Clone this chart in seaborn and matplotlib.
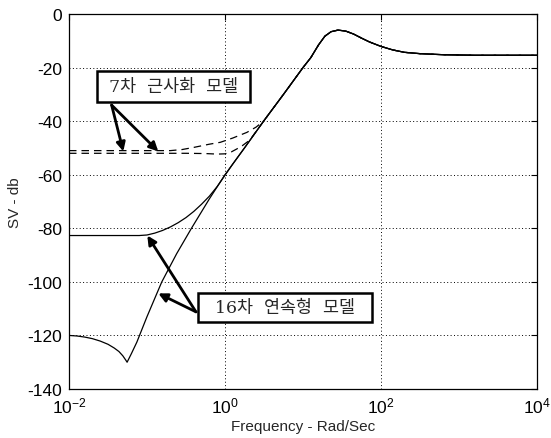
import numpy as np
import pandas as pd
import matplotlib
matplotlib.use("Agg")
import matplotlib.pyplot as plt
from matplotlib.patches import Rectangle
import seaborn as sns

# ---- singular-value curves: log10(frequency in rad/s) and magnitude in dB ----
# common high-frequency part shared by every model
high_logf = [0.10, 0.15, 0.25, 0.50, 0.75, 1.00, 1.10, 1.20, 1.28, 1.36, 1.45, 1.55, 1.65,
             1.75, 1.85, 2.00, 2.15, 2.30, 2.50, 2.80, 3.20, 4.00]
high_db = [-56.0, -54.0, -50.0, -39.8, -30.0, -20.0, -16.3, -11.5, -8.3, -6.6, -6.0, -6.4, -7.5,
           -9.0, -10.4, -12.1, -13.4, -14.3, -14.8, -15.2, -15.4, -15.4]

# 16th-order continuous model, lower singular value
cont_low_logf = [-2.0, -1.9, -1.8, -1.7, -1.6, -1.5, -1.42, -1.36, -1.31, -1.27, -1.255,
                 -1.2, -1.13, -1.0, -0.876, -0.81, -0.62, -0.43, -0.2, 0.0]
cont_low_db = [-120.0, -120.2, -120.6, -121.2, -122.1, -123.3, -124.7, -126.0, -127.6, -129.3, -130.0,
               -126.8, -122.5, -113.0, -104.5, -100.0, -89.5, -80.0, -69.0, -60.0]

# 16th-order continuous model, upper singular value
cont_up_logf = [-2.0, -1.5, -1.1, -1.0, -0.9, -0.8, -0.7, -0.6, -0.5, -0.4, -0.3, -0.2, -0.1, 0.0, 0.1]
cont_up_db = [-82.7, -82.7, -82.7, -82.5, -81.8, -80.8, -79.5, -77.9, -76.0, -73.7, -71.0, -68.0,
              -64.4, -60.2, -56.0]

# 7th-order reduced model, first singular value
red_a_logf = [-2.0, -1.5, -1.0, -0.7, -0.55, -0.4, -0.2, -0.06, 0.1, 0.28, 0.4]
red_a_db = [-51.0, -51.0, -51.0, -51.0, -50.6, -49.8, -48.6, -47.9, -46.3, -44.2, -42.2]

# 7th-order reduced model, second singular value
red_b_logf = [-2.0, -1.5, -1.0, -0.5, -0.25, -0.1, 0.0, 0.08, 0.15, 0.22, 0.28, 0.32]
red_b_db = [-52.0, -52.0, -52.0, -52.0, -52.1, -52.3, -52.2, -51.5, -50.4, -49.2, -47.9, -47.0]

x_ticks = [1e-2, 1e0, 1e2, 1e4]
y_ticks = [0, -20, -40, -60, -80, -100, -120, -140]

label_reduced = "7차  근사화  모델"
label_cont = "16차  연속형  모델"


def series(logf, db):
    rest = [i for i, v in enumerate(high_logf) if v > logf[-1]]
    lf = list(logf) + [high_logf[i] for i in rest]
    d = list(db) + [high_db[i] for i in rest]
    return pd.DataFrame({"freq": np.power(10.0, lf), "db": d})


sns.set_theme(style="white")
plt.rcParams["font.family"] = ["Liberation Sans", "DejaVu Sans"]
plt.rcParams["axes.unicode_minus"] = False
plt.rcParams["mathtext.fontset"] = "custom"
plt.rcParams["mathtext.rm"] = "Liberation Sans"
plt.rcParams["mathtext.it"] = "Liberation Sans"

fig = plt.figure(figsize=(5.51, 4.39), dpi=100)
ax = fig.add_axes([0.1252, 0.1116, 0.8494, 0.8542])

dash = dict(color="black", lw=0.9, linestyle=(0, (6, 4)))
sns.lineplot(data=series(red_a_logf, red_a_db), x="freq", y="db", sort=False, estimator=None, ax=ax, **dash)
sns.lineplot(data=series(red_b_logf, red_b_db), x="freq", y="db", sort=False, estimator=None, ax=ax, **dash)
solid = dict(color="black", lw=0.9)
sns.lineplot(data=series(cont_up_logf, cont_up_db), x="freq", y="db", sort=False, estimator=None, ax=ax, **solid)
sns.lineplot(data=series(cont_low_logf, cont_low_db), x="freq", y="db", sort=False, estimator=None, ax=ax, **solid)

ax.set_xscale("log")
ax.set_xlim(1e-2, 1e4)
ax.set_ylim(-140, 0)
ax.set_xticks(x_ticks)
ax.set_yticks(y_ticks)
ax.minorticks_off()
ax.tick_params(direction="in", length=4, width=0.8, top=True, right=True,
               labelsize=12.5, colors="black", pad=5)
ax.grid(True, color="black", linestyle=(0, (1, 2.5)), linewidth=0.7)
for s in ax.spines.values():
    s.set_color("black")
    s.set_linewidth(0.9)

ax.set_xlabel("Frequency - Rad/Sec", fontsize=11, labelpad=2)
ax.set_ylabel("SV - db", fontsize=11, labelpad=4)

# annotation boxes with arrows
kr = ["DejaVu Serif", "Noto Sans CJK KR"]
arrow = dict(arrowstyle="-|>", color="black", lw=2.0, mutation_scale=13, shrinkA=0, shrinkB=0)

box1 = (0.02265, -32.9, 2.092, -21.2)
ax.add_patch(Rectangle((box1[0], box1[1]), box1[2] - box1[0], box1[3] - box1[1],
                       facecolor="white", edgecolor="black", lw=1.8, zorder=5))
ax.text(np.sqrt(box1[0] * box1[2]), (box1[1] + box1[3]) / 2, label_reduced,
        ha="center", va="center", fontsize=12.5, family=kr, zorder=6)
for tip in [(0.0497, -51.3), (0.1396, -51.3)]:
    ax.annotate("", xy=tip, xytext=(0.0352, -34.0), arrowprops=arrow, zorder=6)

box2 = (0.455, -115.0, 76.0, -104.1)
ax.add_patch(Rectangle((box2[0], box2[1]), box2[2] - box2[0], box2[3] - box2[1],
                       facecolor="white", edgecolor="black", lw=1.8, zorder=5))
ax.text(np.sqrt(box2[0] * box2[2]), (box2[1] + box2[3]) / 2, label_cont,
        ha="center", va="center", fontsize=12.5, family=kr, zorder=6)
for tip in [(0.1396, -104.3), (0.101, -82.7)]:
    ax.annotate("", xy=tip, xytext=(0.4246, -111.2), arrowprops=arrow, zorder=6)

fig.savefig("out.png", dpi=100)
